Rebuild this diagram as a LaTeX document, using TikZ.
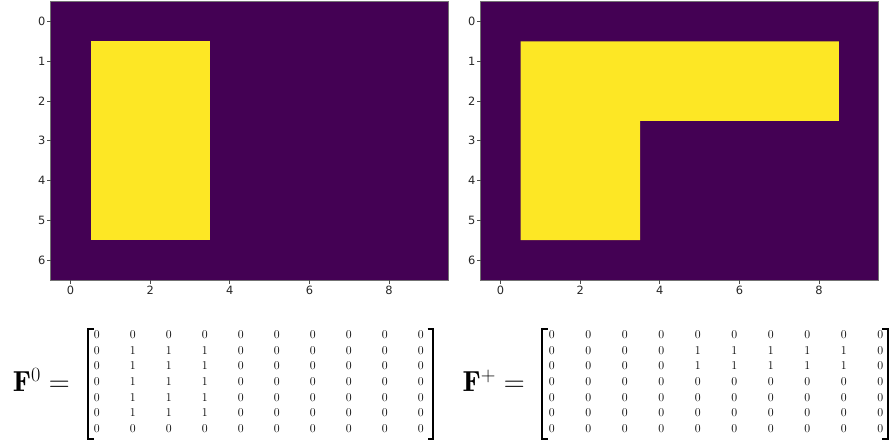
\RequirePackage{fix-cm}
\documentclass[tikz,border=0pt]{standalone}
\usepackage{fontspec}
\newfontfamily\tickfont{DejaVu Sans}
\definecolor{vpurple}{RGB}{68,1,84}
\definecolor{vyellow}{RGB}{253,231,37}
\begin{document}
\begin{tikzpicture}[x=1pt,y=-1pt,
  ticklbl/.style={font=\tickfont\fontsize{11.4}{13}\selectfont, text=black!85, inner sep=0},
  spine/.style={draw=black!55, line width=0.9pt},
  tickmark/.style={draw=black!70, line width=0.8pt},
  entry/.style={font=\fontsize{12}{14}\selectfont, inner sep=0},
  bracket/.style={line width=1.8pt},
  eqlbl/.style={font=\fontsize{29}{34}\selectfont, inner sep=0, anchor=base east}]
\useasboundingbox (0,0) rectangle (889,444);

% ---------- left heatmap ----------
\fill[vpurple] (50.7,1.5) rectangle (448.7,280.0);
\fill[vyellow] (90.5,41.3) rectangle (209.9,240.2);
\draw[spine] (50.7,1.5) rectangle (448.7,280.0);
\foreach \i in {0,...,6} {
  \pgfmathsetmacro\yy{21.4+39.78*\i}
  \draw[tickmark] (47.2,\yy) -- (50.7,\yy);
  \node[ticklbl, anchor=east] (ly\i) at (45.5,\yy) {\i};
}
\foreach \k in {0,2,4,6,8} {
  \pgfmathsetmacro\xx{70.6+39.8*\k}
  \draw[tickmark] (\xx,280.0) -- (\xx,283.5);
  \node[ticklbl, anchor=north] (lx\k) at (\xx,286) {\k};
}

% ---------- right heatmap ----------
\fill[vpurple] (480.7,1.5) rectangle (878.7,280.0);
\fill[vyellow] (520.5,41.3) -- (838.9,41.3) -- (838.9,120.8) -- (640.1,120.8)
  -- (640.1,240.2) -- (520.5,240.2) -- cycle;
\draw[spine] (480.7,1.5) rectangle (878.7,280.0);
\foreach \i in {0,...,6} {
  \pgfmathsetmacro\yy{21.4+39.78*\i}
  \draw[tickmark] (477.2,\yy) -- (480.7,\yy);
  \node[ticklbl, anchor=east] (ry\i) at (475.5,\yy) {\i};
}
\foreach \k in {0,2,4,6,8} {
  \pgfmathsetmacro\xx{500.6+39.8*\k}
  \draw[tickmark] (\xx,280.0) -- (\xx,283.5);
  \node[ticklbl, anchor=north] (rx\k) at (\xx,286) {\k};
}

% ---------- matrix F^0 ----------
\node[eqlbl] (f0) at (70,391.7) {$\mathbf{F}^{0} =$};
\foreach \row [count=\ri from 0] in {
  {0,0,0,0,0,0,0,0,0,0},
  {0,1,1,1,0,0,0,0,0,0},
  {0,1,1,1,0,0,0,0,0,0},
  {0,1,1,1,0,0,0,0,0,0},
  {0,1,1,1,0,0,0,0,0,0},
  {0,1,1,1,0,0,0,0,0,0},
  {0,0,0,0,0,0,0,0,0,0}} {
  \foreach \v [count=\ci from 0] in \row {
    \node[entry] (a-\ri-\ci) at ({96.7+36*\ci},{335+15.55*\ri}) {$\v$};
  }
}
\draw[bracket] (93.5,329.3) -- (87.7,329.3) -- (87.7,439) -- (93.5,439);
\draw[bracket] (427.5,329.3) -- (433.3,329.3) -- (433.3,439) -- (427.5,439);

% ---------- matrix F^+ ----------
\node[eqlbl] (fp) at (525,391.7) {$\mathbf{F}^{+} =$};
\foreach \row [count=\ri from 0] in {
  {0,0,0,0,0,0,0,0,0,0},
  {0,0,0,0,1,1,1,1,1,0},
  {0,0,0,0,1,1,1,1,1,0},
  {0,0,0,0,0,0,0,0,0,0},
  {0,0,0,0,0,0,0,0,0,0},
  {0,0,0,0,0,0,0,0,0,0},
  {0,0,0,0,0,0,0,0,0,0}} {
  \foreach \v [count=\ci from 0] in \row {
    \node[entry] (b-\ri-\ci) at ({551.7+36.5*\ci},{335+15.55*\ri}) {$\v$};
  }
}
\draw[bracket] (547.5,329.3) -- (541.7,329.3) -- (541.7,439) -- (547.5,439);
\draw[bracket] (882.2,329.3) -- (888,329.3) -- (888,439) -- (882.2,439);
\end{tikzpicture}
\end{document}
